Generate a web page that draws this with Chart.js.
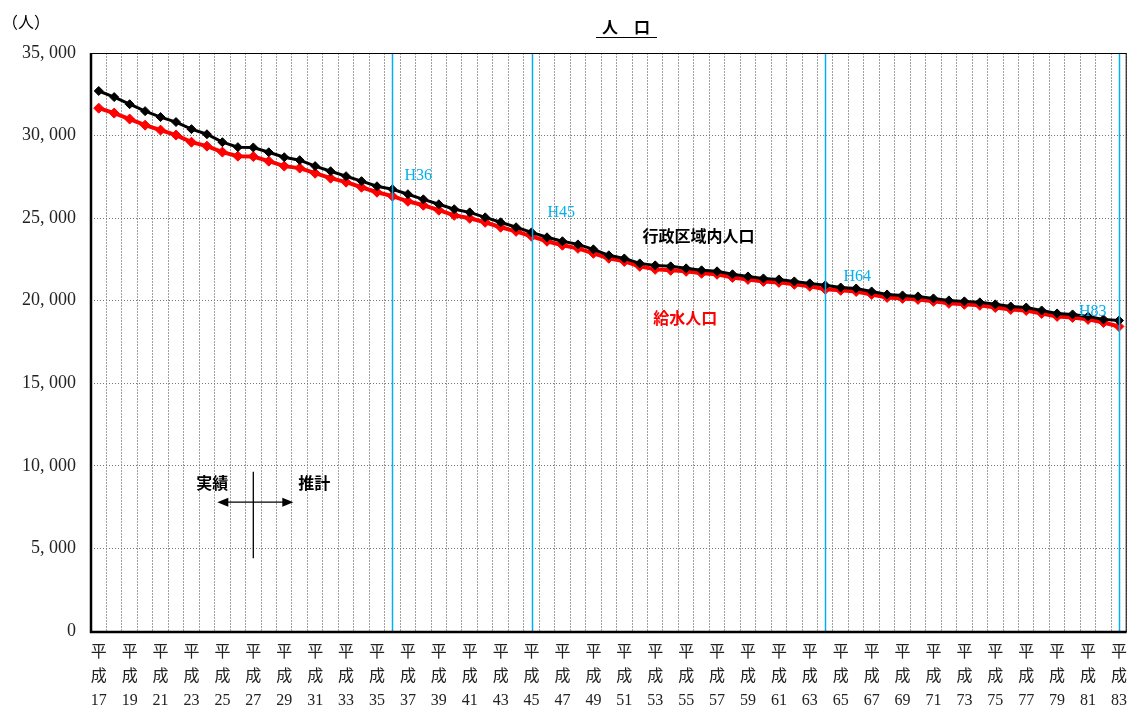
<!DOCTYPE html>
<html>
<head>
<meta charset="utf-8">
<script src="https://cdn.jsdelivr.net/npm/chart.js@4"></script>
<style>
  html, body { margin: 0; padding: 0; background: #fff; }
  #wrap { width: 1137px; height: 711px; }
</style>
</head>
<body>
<div id="wrap"><canvas id="pop-chart" width="1137" height="711"></canvas></div>
<script>
// 年度（平成）
const years = [17, 18, 19, 20, 21, 22, 23, 24, 25, 26, 27, 28, 29, 30, 31, 32, 33, 34, 35, 36,
  37, 38, 39, 40, 41, 42, 43, 44, 45, 46, 47, 48, 49, 50, 51, 52, 53, 54, 55, 56,
  57, 58, 59, 60, 61, 62, 63, 64, 65, 66, 67, 68, 69, 70, 71, 72, 73, 74, 75, 76,
  77, 78, 79, 80, 81, 82, 83];

// 行政区域内人口
const gyoseiPop = [32700, 32330, 31900, 31480, 31120, 30820, 30390, 30080, 29600, 29300,
  29280, 28990, 28690, 28510, 28150, 27840, 27540, 27240, 26930, 26750,
  26450, 26140, 25840, 25540, 25350, 25050, 24750, 24450, 24140, 23840,
  23600, 23410, 23110, 22750, 22560, 22260, 22140, 22080, 21960, 21840,
  21780, 21600, 21470, 21350, 21290, 21170, 21050, 20930, 20800, 20740,
  20560, 20380, 20320, 20260, 20140, 20020, 19960, 19900, 19780, 19650,
  19590, 19410, 19230, 19170, 19050, 18870, 18800];

// 給水人口
const kyusuiPop = [31660, 31360, 31000, 30630, 30330, 30030, 29600, 29360, 29000, 28750,
  28730, 28450, 28150, 28030, 27720, 27420, 27180, 26870, 26570, 26330,
  26020, 25780, 25480, 25170, 24990, 24750, 24450, 24200, 23900, 23600,
  23360, 23170, 22870, 22570, 22380, 22080, 21900, 21840, 21780, 21660,
  21600, 21410, 21290, 21170, 21110, 20990, 20870, 20690, 20630, 20560,
  20380, 20200, 20140, 20080, 19960, 19840, 19780, 19720, 19590, 19470,
  19410, 19230, 19050, 18990, 18870, 18680, 18440];

// 目標年度の縦線
const markYears = [36, 45, 64, 83];
const markLabels = ['H36', 'H45', 'H64', 'H83'];

// y軸目盛
const yTicks = [0, 5000, 10000, 15000, 20000, 25000, 30000, 35000];

const labels = years.map(y => '平成' + y);
const serif = '"Liberation Serif", "Noto Sans CJK JP", serif';
const gothic = '"Noto Sans CJK JP", sans-serif';
const blue = '#00b0f0';

// 枠・縦線・注記を描くプラグイン
const extras = {
  id: 'extras',
  beforeDraw(chart) {
    const c = chart.ctx;
    c.save();
    c.fillStyle = '#fff';
    c.fillRect(0, 0, chart.width, chart.height);
    c.restore();
  },
  afterDatasetsDraw(chart) {
    const c = chart.ctx;
    const xs = chart.scales.x, ys = chart.scales.y;
    const a = chart.chartArea;
    c.save();

    // 目標年度ライン
    c.strokeStyle = blue;
    c.lineWidth = 1.5;
    const labelPos = [[12, 27540, 'left'], [15, 25300, 'left'], [18, 21470, 'left'], [-13, 19350, 'right']];
    markYears.forEach((yr, i) => {
      const px = Math.round(xs.getPixelForValue(years.indexOf(yr))) + 0.5;
      c.beginPath();
      c.moveTo(px, a.top);
      c.lineTo(px, a.bottom);
      c.stroke();
      const lp = labelPos[i];
      c.fillStyle = blue;
      c.font = '16px ' + serif;
      c.textAlign = lp[2];
      c.textBaseline = 'middle';
      c.fillText(markLabels[i], px + lp[0], ys.getPixelForValue(lp[1]));
    });

    // 外枠
    c.strokeStyle = '#000';
    c.lineWidth = 1;
    c.strokeRect(a.left + 0.5, a.top + 0.5, a.right - a.left - 1, a.bottom - a.top);
    c.lineWidth = 2.5;
    c.beginPath();
    c.moveTo(a.left, a.top);
    c.lineTo(a.left, a.bottom + 1);
    c.lineTo(a.right, a.bottom + 1);
    c.stroke();

    // 系列名
    c.font = 'bold 16px ' + gothic;
    c.textAlign = 'center';
    c.textBaseline = 'middle';
    c.fillStyle = '#000';
    c.fillText('行政区域内人口', xs.getPixelForValue(years.indexOf(56)) - 3, ys.getPixelForValue(23900));
    c.fillStyle = '#ff0000';
    c.fillText('給水人口', xs.getPixelForValue(years.indexOf(55)) - 1, ys.getPixelForValue(18930));

    // 実績／推計
    const split = xs.getPixelForValue(years.indexOf(27));
    const ay = ys.getPixelForValue(7800);
    c.fillStyle = '#000';
    c.fillText('実績', split - 41, ys.getPixelForValue(8950));
    c.fillText('推計', split + 61, ys.getPixelForValue(8950));
    c.strokeStyle = '#000';
    c.lineWidth = 1.3;
    c.beginPath();
    c.moveTo(split, ys.getPixelForValue(9650));
    c.lineTo(split, ys.getPixelForValue(4400));
    c.moveTo(split - 30, ay);
    c.lineTo(split + 34, ay);
    c.stroke();
    [[split - 36, -1], [split + 40, 1]].forEach(([tip, dir]) => {
      c.beginPath();
      c.moveTo(tip, ay);
      c.lineTo(tip - dir * 11, ay - 4.5);
      c.lineTo(tip - dir * 11, ay + 4.5);
      c.closePath();
      c.fill();
    });

    // タイトル・単位
    c.font = 'bold 16px ' + gothic;
    c.textAlign = 'center';
    c.fillText('人　口', 626, 27);
    c.lineWidth = 1;
    c.beginPath();
    c.moveTo(596, 37.5);
    c.lineTo(657, 37.5);
    c.stroke();
    c.font = '16px ' + gothic;
    c.textAlign = 'left';
    c.fillText('（人）', 2, 22);
    c.restore();
  }
};

const ctx = document.getElementById('pop-chart').getContext('2d');
const popChart = new Chart(ctx, {
  type: 'line',
  data: {
    labels: labels,
    datasets: [{
      label: '行政区域内人口',
      data: gyoseiPop,
      borderColor: '#000',
      backgroundColor: '#000',
      borderWidth: 3,
      pointStyle: 'rectRot',
      pointRadius: 4.5,
      pointBorderWidth: 1,
      tension: 0
    }, {
      label: '給水人口',
      data: kyusuiPop,
      borderColor: '#ff0000',
      backgroundColor: '#ff0000',
      borderWidth: 4,
      pointStyle: 'rectRot',
      pointRadius: 5,
      pointBorderWidth: 1,
      tension: 0
    }]
  },
  options: {
    responsive: false,
    animation: false,
    layout: { padding: { top: 53, right: 5, left: 0, bottom: 0 } },
    plugins: {
      legend: { display: false },
      tooltip: { enabled: false },
      title: { display: false }
    },
    scales: {
      x: {
        offset: true,
        afterFit: (s) => { s.height = 80; },
        grid: {
          offset: true,
          drawTicks: false,
          color: '#a0a0a0',
          lineWidth: 1
        },
        border: { display: false, dash: [2, 1] },
        ticks: {
          autoSkip: false,
          maxRotation: 0,
          minRotation: 0,
          padding: 10,
          color: '#222',
          font: { family: serif, size: 16, lineHeight: 1.5 },
          callback: (v, i) => (years[i] % 2 === 1 ? ['平', '成', String(years[i])] : '')
        }
      },
      y: {
        min: 0,
        max: 35000,
        afterFit: (s) => { s.width = 91; },
        afterBuildTicks: (s) => { s.ticks = yTicks.map(v => ({ value: v })); },
        grid: {
          drawTicks: false,
          color: '#777',
          lineWidth: 1
        },
        border: { display: false, dash: [1, 2] },
        ticks: {
          padding: 15,
          color: '#222',
          font: { family: serif, size: 18 },
          callback: (v) => (v === 0 ? '0' : Math.floor(v / 1000) + ', ' + String(v % 1000).padStart(3, '0'))
        }
      }
    }
  },
  plugins: [extras]
});
</script>
</body>
</html>
